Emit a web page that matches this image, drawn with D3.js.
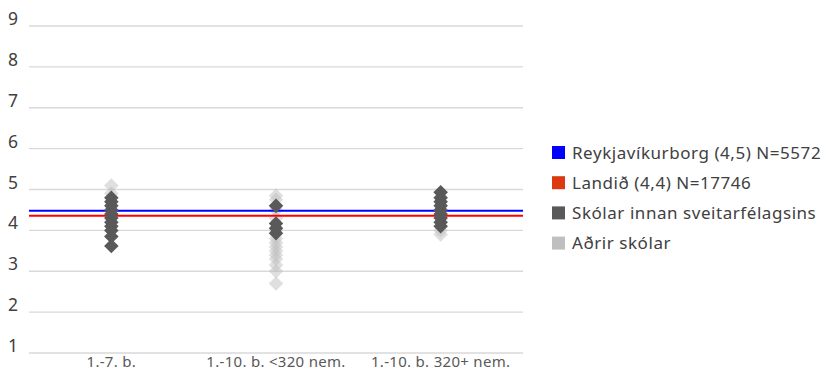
<!DOCTYPE html>
<html><head><meta charset="utf-8">
<script src="https://cdn.jsdelivr.net/npm/d3@7/dist/d3.min.js"></script>
<style>body{margin:0;background:#fff;font-family:"Noto Sans",sans-serif;}</style>
</head><body><svg id="c" width="825" height="371"></svg>
<script>
const categories = ["1.-7. b.", "1.-10. b. <320 nem.", "1.-10. b. 320+ nem."];
const yTicks = [1,2,3,4,5,6,7,8,9];
const reykjavik = 4.48;
const landid = 4.36;
const ownSchools = [
  [4.8, 4.7, 4.6, 4.5, 4.4, 4.3, 4.2, 4.1, 4.0, 3.85, 3.62],
  [4.6, 4.17, 4.05, 3.93],
  [4.93, 4.8, 4.7, 4.6, 4.5, 4.4, 4.3, 4.2, 4.1]
];
const otherSchools = [
  [5.1, 4.9],
  [4.85, 4.75, 4.5, 4.3, 4.0, 3.8, 3.7, 3.6, 3.5, 3.4, 3.3, 3.15, 3.0, 2.7],
  [4.0, 3.9]
];
const legendItems = ["Reykjavíkurborg (4,5) N=5572", "Landið (4,4) N=17746", "Skólar innan sveitarfélagsins", "Aðrir skólar"];
const legendColors = ["#0000ff", "#dc3912", "#595959", "#bfbfbf"];

const svg = d3.select("#c");
const x = d3.scaleBand().domain(categories).range([29, 523]);
const y = d3.scaleLinear().domain([1, 9]).range([353, 26]);

const g = svg.append("g");
g.selectAll("line.grid").data(yTicks).join("line")
  .attr("x1", 29).attr("x2", 523)
  .attr("y1", d => y(d)).attr("y2", d => y(d))
  .attr("stroke", "#d9d9d9").attr("stroke-width", 1.3);
g.selectAll("text.yl").data(yTicks).join("text")
  .attr("x", 13).attr("y", d => y(d) - 1)
  .attr("text-anchor", "middle").attr("fill", "#404040")
  .attr("font-size", 17.5).text(d => d);
g.selectAll("text.xl").data(categories).join("text")
  .attr("x", d => x(d) + x.bandwidth()/2).attr("y", 367)
  .attr("text-anchor", "middle").attr("fill", "#595959")
  .attr("font-size", 15).attr("letter-spacing", 0.3).text(d => d);

const sym = d3.symbol().type(d3.symbolDiamond2).size(135);
otherSchools.forEach((arr, i) => {
  g.selectAll(null).data(arr).join("path")
    .attr("d", sym)
    .attr("transform", d => `translate(${x(categories[i]) + x.bandwidth()/2},${y(d)})`)
    .attr("fill", "#bfbfbf").attr("fill-opacity", 0.5);
});

[[reykjavik, "#0000ff"], [landid, "#ff0000"]].forEach(([v, c]) => {
  g.append("line").attr("x1", 29).attr("x2", 523)
    .attr("y1", y(v)).attr("y2", y(v))
    .attr("stroke", c).attr("stroke-width", 2);
});

ownSchools.forEach((arr, i) => {
  g.selectAll(null).data(arr).join("path")
    .attr("d", sym)
    .attr("transform", d => `translate(${x(categories[i]) + x.bandwidth()/2},${y(d)})`)
    .attr("fill", "#595959");
});

const lg = svg.append("g");
legendItems.forEach((t, i) => {
  const yy = 152.5 + i * 30.2;
  lg.append("rect").attr("x", 552).attr("y", yy - 6.5).attr("width", 13).attr("height", 13).attr("fill", legendColors[i]);
  lg.append("text").attr("x", 572).attr("y", yy + 6).attr("font-size", 17).attr("letter-spacing", 0.55).attr("fill", "#404040").text(t);
});
</script></body></html>
